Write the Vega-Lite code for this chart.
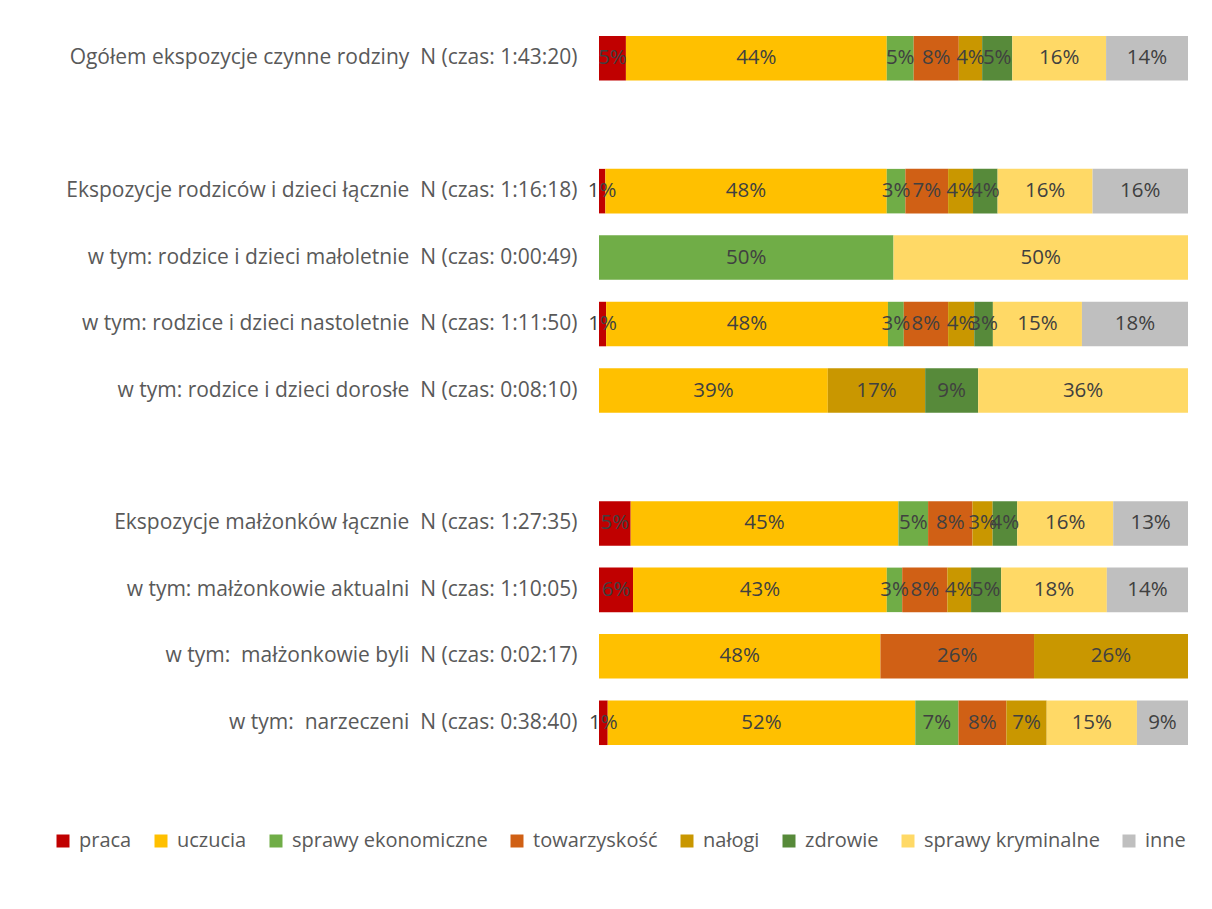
{
  "$schema": "https://vega.github.io/schema/vega-lite/v6.json",
  "width": 589,
  "height": 731,
  "autosize": {"type": "none"},
  "padding": {"left": 599, "top": 25, "right": 24, "bottom": 153},
  "background": "white",
  "config": {"view": {"stroke": null}, "font": "Open Sans"},
  "data": {"values": [
    {"r": "Ogółem ekspozycje czynne rodziny \u00a0N (czas: 1:43:20)", "c": "praca", "o": 0, "v": 0.0457},
    {"r": "Ogółem ekspozycje czynne rodziny \u00a0N (czas: 1:43:20)", "c": "uczucia", "o": 1, "v": 0.4429},
    {"r": "Ogółem ekspozycje czynne rodziny \u00a0N (czas: 1:43:20)", "c": "sprawy ekonomiczne", "o": 2, "v": 0.0457},
    {"r": "Ogółem ekspozycje czynne rodziny \u00a0N (czas: 1:43:20)", "c": "towarzyskość", "o": 3, "v": 0.0766},
    {"r": "Ogółem ekspozycje czynne rodziny \u00a0N (czas: 1:43:20)", "c": "nałogi", "o": 4, "v": 0.0397},
    {"r": "Ogółem ekspozycje czynne rodziny \u00a0N (czas: 1:43:20)", "c": "zdrowie", "o": 5, "v": 0.0511},
    {"r": "Ogółem ekspozycje czynne rodziny \u00a0N (czas: 1:43:20)", "c": "sprawy kryminalne", "o": 6, "v": 0.1593},
    {"r": "Ogółem ekspozycje czynne rodziny \u00a0N (czas: 1:43:20)", "c": "inne", "o": 7, "v": 0.1391},

    {"r": "Ekspozycje rodziców i dzieci łącznie \u00a0N (czas: 1:16:18)", "c": "praca", "o": 0, "v": 0.0108},
    {"r": "Ekspozycje rodziców i dzieci łącznie \u00a0N (czas: 1:16:18)", "c": "uczucia", "o": 1, "v": 0.4778},
    {"r": "Ekspozycje rodziców i dzieci łącznie \u00a0N (czas: 1:16:18)", "c": "sprawy ekonomiczne", "o": 2, "v": 0.0316},
    {"r": "Ekspozycje rodziców i dzieci łącznie \u00a0N (czas: 1:16:18)", "c": "towarzyskość", "o": 3, "v": 0.0726},
    {"r": "Ekspozycje rodziców i dzieci łącznie \u00a0N (czas: 1:16:18)", "c": "nałogi", "o": 4, "v": 0.0423},
    {"r": "Ekspozycje rodziców i dzieci łącznie \u00a0N (czas: 1:16:18)", "c": "zdrowie", "o": 5, "v": 0.0417},
    {"r": "Ekspozycje rodziców i dzieci łącznie \u00a0N (czas: 1:16:18)", "c": "sprawy kryminalne", "o": 6, "v": 0.1613},
    {"r": "Ekspozycje rodziców i dzieci łącznie \u00a0N (czas: 1:16:18)", "c": "inne", "o": 7, "v": 0.1620},

    {"r": "w tym: rodzice i dzieci małoletnie \u00a0N (czas: 0:00:49)", "c": "sprawy ekonomiczne", "o": 2, "v": 0.5},
    {"r": "w tym: rodzice i dzieci małoletnie \u00a0N (czas: 0:00:49)", "c": "sprawy kryminalne", "o": 6, "v": 0.5},

    {"r": "w tym: rodzice i dzieci nastoletnie \u00a0N (czas: 1:11:50)", "c": "praca", "o": 0, "v": 0.0121},
    {"r": "w tym: rodzice i dzieci nastoletnie \u00a0N (czas: 1:11:50)", "c": "uczucia", "o": 1, "v": 0.4785},
    {"r": "w tym: rodzice i dzieci nastoletnie \u00a0N (czas: 1:11:50)", "c": "sprawy ekonomiczne", "o": 2, "v": 0.0269},
    {"r": "w tym: rodzice i dzieci nastoletnie \u00a0N (czas: 1:11:50)", "c": "towarzyskość", "o": 3, "v": 0.0753},
    {"r": "w tym: rodzice i dzieci nastoletnie \u00a0N (czas: 1:11:50)", "c": "nałogi", "o": 4, "v": 0.0444},
    {"r": "w tym: rodzice i dzieci nastoletnie \u00a0N (czas: 1:11:50)", "c": "zdrowie", "o": 5, "v": 0.0316},
    {"r": "w tym: rodzice i dzieci nastoletnie \u00a0N (czas: 1:11:50)", "c": "sprawy kryminalne", "o": 6, "v": 0.1512},
    {"r": "w tym: rodzice i dzieci nastoletnie \u00a0N (czas: 1:11:50)", "c": "inne", "o": 7, "v": 0.1801},

    {"r": "w tym: rodzice i dzieci dorosłe \u00a0N (czas: 0:08:10)", "c": "uczucia", "o": 1, "v": 0.3884},
    {"r": "w tym: rodzice i dzieci dorosłe \u00a0N (czas: 0:08:10)", "c": "nałogi", "o": 4, "v": 0.1653},
    {"r": "w tym: rodzice i dzieci dorosłe \u00a0N (czas: 0:08:10)", "c": "zdrowie", "o": 5, "v": 0.0900},
    {"r": "w tym: rodzice i dzieci dorosłe \u00a0N (czas: 0:08:10)", "c": "sprawy kryminalne", "o": 6, "v": 0.3562},

    {"r": "Ekspozycje małżonków łącznie \u00a0N (czas: 1:27:35)", "c": "praca", "o": 0, "v": 0.0538},
    {"r": "Ekspozycje małżonków łącznie \u00a0N (czas: 1:27:35)", "c": "uczucia", "o": 1, "v": 0.4546},
    {"r": "Ekspozycje małżonków łącznie \u00a0N (czas: 1:27:35)", "c": "sprawy ekonomiczne", "o": 2, "v": 0.0504},
    {"r": "Ekspozycje małżonków łącznie \u00a0N (czas: 1:27:35)", "c": "towarzyskość", "o": 3, "v": 0.0753},
    {"r": "Ekspozycje małżonków łącznie \u00a0N (czas: 1:27:35)", "c": "nałogi", "o": 4, "v": 0.0343},
    {"r": "Ekspozycje małżonków łącznie \u00a0N (czas: 1:27:35)", "c": "zdrowie", "o": 5, "v": 0.0417},
    {"r": "Ekspozycje małżonków łącznie \u00a0N (czas: 1:27:35)", "c": "sprawy kryminalne", "o": 6, "v": 0.1630},
    {"r": "Ekspozycje małżonków łącznie \u00a0N (czas: 1:27:35)", "c": "inne", "o": 7, "v": 0.1270},

    {"r": "w tym: małżonkowie aktualni \u00a0N (czas: 1:10:05)", "c": "praca", "o": 0, "v": 0.0578},
    {"r": "w tym: małżonkowie aktualni \u00a0N (czas: 1:10:05)", "c": "uczucia", "o": 1, "v": 0.4308},
    {"r": "w tym: małżonkowie aktualni \u00a0N (czas: 1:10:05)", "c": "sprawy ekonomiczne", "o": 2, "v": 0.0262},
    {"r": "w tym: małżonkowie aktualni \u00a0N (czas: 1:10:05)", "c": "towarzyskość", "o": 3, "v": 0.0766},
    {"r": "w tym: małżonkowie aktualni \u00a0N (czas: 1:10:05)", "c": "nałogi", "o": 4, "v": 0.0403},
    {"r": "w tym: małżonkowie aktualni \u00a0N (czas: 1:10:05)", "c": "zdrowie", "o": 5, "v": 0.0511},
    {"r": "w tym: małżonkowie aktualni \u00a0N (czas: 1:10:05)", "c": "sprawy kryminalne", "o": 6, "v": 0.1794},
    {"r": "w tym: małżonkowie aktualni \u00a0N (czas: 1:10:05)", "c": "inne", "o": 7, "v": 0.1378},

    {"r": "w tym: \u00a0małżonkowie byli \u00a0N (czas: 0:02:17)", "c": "uczucia", "o": 1, "v": 0.4778},
    {"r": "w tym: \u00a0małżonkowie byli \u00a0N (czas: 0:02:17)", "c": "towarzyskość", "o": 3, "v": 0.2608},
    {"r": "w tym: \u00a0małżonkowie byli \u00a0N (czas: 0:02:17)", "c": "nałogi", "o": 4, "v": 0.2614},

    {"r": "w tym: \u00a0narzeczeni \u00a0N (czas: 0:38:40)", "c": "praca", "o": 0, "v": 0.0148},
    {"r": "w tym: \u00a0narzeczeni \u00a0N (czas: 0:38:40)", "c": "uczucia", "o": 1, "v": 0.5222},
    {"r": "w tym: \u00a0narzeczeni \u00a0N (czas: 0:38:40)", "c": "sprawy ekonomiczne", "o": 2, "v": 0.0733},
    {"r": "w tym: \u00a0narzeczeni \u00a0N (czas: 0:38:40)", "c": "towarzyskość", "o": 3, "v": 0.0813},
    {"r": "w tym: \u00a0narzeczeni \u00a0N (czas: 0:38:40)", "c": "nałogi", "o": 4, "v": 0.0685},
    {"r": "w tym: \u00a0narzeczeni \u00a0N (czas: 0:38:40)", "c": "sprawy kryminalne", "o": 6, "v": 0.1532},
    {"r": "w tym: \u00a0narzeczeni \u00a0N (czas: 0:38:40)", "c": "inne", "o": 7, "v": 0.0867}
  ]},
  "transform": [
    {"stack": "v", "groupby": ["r"], "sort": [{"field": "o", "order": "ascending"}], "offset": "normalize", "as": ["x0", "x1"]},
    {"calculate": "(datum.x0 + datum.x1) / 2", "as": "xm"}
  ],
  "encoding": {
    "y": {
      "field": "r",
      "type": "nominal",
      "title": null,
      "scale": {
        "domain": [
          "Ogółem ekspozycje czynne rodziny \u00a0N (czas: 1:43:20)",
          " ",
          "Ekspozycje rodziców i dzieci łącznie \u00a0N (czas: 1:16:18)",
          "w tym: rodzice i dzieci małoletnie \u00a0N (czas: 0:00:49)",
          "w tym: rodzice i dzieci nastoletnie \u00a0N (czas: 1:11:50)",
          "w tym: rodzice i dzieci dorosłe \u00a0N (czas: 0:08:10)",
          "\u00a0",
          "Ekspozycje małżonków łącznie \u00a0N (czas: 1:27:35)",
          "w tym: małżonkowie aktualni \u00a0N (czas: 1:10:05)",
          "w tym: \u00a0małżonkowie byli \u00a0N (czas: 0:02:17)",
          "w tym: \u00a0narzeczeni \u00a0N (czas: 0:38:40)"
        ],
        "paddingInner": 0.33,
        "paddingOuter": 0.165
      },
      "axis": {
        "ticks": false,
        "domain": false,
        "grid": false,
        "labelPadding": 22,
        "labelFontSize": 21,
        "labelColor": "#595959",
        "labelLimit": 0,
        "labelFont": "Open Sans"
      }
    }
  },
  "layer": [
    {
      "mark": {"type": "bar"},
      "encoding": {
        "x": {"field": "x0", "type": "quantitative", "scale": {"domain": [0, 1], "nice": false}, "axis": null},
        "x2": {"field": "x1"},
        "color": {
          "field": "c",
          "type": "nominal",
          "scale": {
            "domain": ["praca", "uczucia", "sprawy ekonomiczne", "towarzyskość", "nałogi", "zdrowie", "sprawy kryminalne", "inne"],
            "range": ["#C00000", "#FFC000", "#70AD47", "#D06015", "#C99700", "#578A3A", "#FFD966", "#BFBFBF"]
          },
          "legend": {
            "title": null,
            "orient": "none",
            "legendX": -546,
            "legendY": 806,
            "direction": "horizontal",
            "columns": 8,
            "symbolType": "square",
            "symbolSize": 169,
            "symbolStrokeWidth": 0,
            "labelFontSize": 20,
            "labelColor": "#595959",
            "labelFont": "Open Sans",
            "labelOffset": 6,
            "columnPadding": 19,
            "labelLimit": 0
          }
        }
      }
    },
    {
      "mark": {"type": "text", "fontSize": 20.5, "color": "#404040", "font": "Open Sans"},
      "encoding": {
        "x": {"field": "xm", "type": "quantitative"},
        "text": {"field": "v", "type": "quantitative", "format": ".0%"}
      }
    }
  ]
}
